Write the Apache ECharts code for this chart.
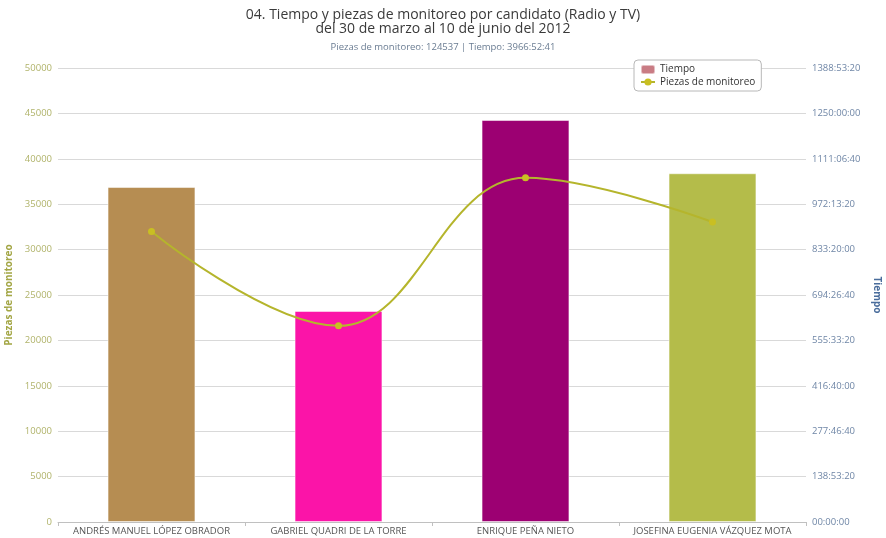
<!DOCTYPE html>
<html>
<head>
<meta charset="utf-8">
<script src="https://cdn.jsdelivr.net/npm/echarts@6/dist/echarts.min.js"></script>
<style>
  html, body { margin: 0; padding: 0; background: #fff; }
  #chart { width: 886px; height: 538px; }
</style>
</head>
<body>
<div id="chart"></div>
<script>
  // candidatos
  var candidatos = ['ANDRÉS MANUEL LÓPEZ OBRADOR', 'GABRIEL QUADRI DE LA TORRE', 'ENRIQUE PEÑA NIETO', 'JOSEFINA EUGENIA VÁZQUEZ MOTA'];
  // tiempo en segundos (eje derecho)
  var tiempoSeg = [3689000, 2324000, 4427000, 3840761];
  // piezas de monitoreo (eje izquierdo)
  var piezas = [32000, 21600, 37900, 33037];
  var coloresBarra = ['#b68d52', '#fb14a8', '#9c0072', '#b4bc4a'];

  var fmtTiempo = function (s) {
    var h = Math.floor(s / 3600);
    var m = Math.floor((s % 3600) / 60);
    var sec = Math.round(s % 60);
    var pad = function (n) { return n < 10 ? '0' + n : '' + n; };
    return pad(h) + ':' + pad(m) + ':' + pad(sec);
  };

  var barData = [];
  for (var i = 0; i < tiempoSeg.length; i++) {
    barData.push({
      value: tiempoSeg[i],
      itemStyle: { color: coloresBarra[i] }
    });
  }

  var myChart = echarts.init(document.getElementById('chart'));
  var option = {
    animation: false,
    title: {
      text: '04. Tiempo y piezas de monitoreo por candidato (Radio y TV)\ndel 30 de marzo al 10 de junio del 2012',
      subtext: 'Piezas de monitoreo: 124537 | Tiempo: 3966:52:41',
      left: 'center',
      top: 3,
      itemGap: 6,
      textStyle: { fontSize: 14, fontWeight: 'normal', color: '#3a3a3a', lineHeight: 14, fontFamily: 'Open Sans' },
      subtextStyle: { fontSize: 9.5, color: '#6a7c92', fontFamily: 'Open Sans' }
    },
    legend: {
      orient: 'vertical',
      left: 634,
      top: 60,
      itemWidth: 14,
      itemHeight: 9,
      itemGap: 2,
      padding: [4, 6, 4, 6],
      borderColor: '#b8b8b8',
      borderWidth: 1,
      borderRadius: 4,
      backgroundColor: '#fff',
      textStyle: { fontSize: 10, color: '#333', fontFamily: 'Open Sans' },
      data: ['Tiempo', 'Piezas de monitoreo']
    },
    grid: { left: 58, right: 80, top: 68, bottom: 16, containLabel: false, outerBoundsMode: 'none' },
    xAxis: {
      type: 'category',
      data: candidatos,
      axisLine: { lineStyle: { color: '#c0c0c0' } },
      axisTick: { show: true, length: 4, lineStyle: { color: '#c0c0c0' } },
      axisLabel: { interval: 0, fontSize: 9.5, color: '#555', margin: 4, fontFamily: 'Open Sans' }
    },
    yAxis: [
      {
        type: 'value',
        min: 0,
        max: 50000,
        interval: 5000,
        name: 'Piezas de monitoreo',
        nameLocation: 'middle',
        nameRotate: 90,
        nameGap: 41,
        nameTextStyle: { color: '#a3a645', fontSize: 10, fontWeight: 'bold', fontFamily: 'Open Sans' },
        axisLabel: {
          fontSize: 9.5,
          color: '#b0b36a',
          margin: 6,
          fontFamily: 'Open Sans',
          formatter: function (v) { return '' + v; }
        },
        axisLine: { show: false },
        axisTick: { show: false },
        splitLine: { lineStyle: { color: '#d9d9d9' } }
      },
      {
        type: 'value',
        min: 0,
        max: 5000000,
        interval: 500000,
        name: 'Tiempo',
        nameLocation: 'middle',
        nameRotate: -90,
        nameGap: 66,
        nameTextStyle: { color: '#4a6d9c', fontSize: 10, fontWeight: 'bold', fontFamily: 'Open Sans' },
        axisLabel: {
          fontSize: 9.5,
          color: '#6f86a6',
          margin: 6,
          fontFamily: 'Open Sans',
          formatter: function (v) { return fmtTiempo(v); }
        },
        axisLine: { show: false },
        axisTick: { show: false },
        splitLine: { show: false }
      }
    ],
    series: [
      {
        name: 'Tiempo',
        type: 'bar',
        yAxisIndex: 1,
        barWidth: '47%',
        itemStyle: { color: '#c97c84', borderColor: 'rgba(255,255,255,0.5)', borderWidth: 1 },
        data: barData
      },
      {
        name: 'Piezas de monitoreo',
        type: 'line',
        yAxisIndex: 0,
        smooth: 0.4,
        symbol: 'circle',
        symbolSize: 7,
        lineStyle: { color: '#b5b52c', width: 2 },
        itemStyle: { color: '#c9bf22' },
        data: piezas
      }
    ]
  };

  if (option && typeof option == 'object') {
    myChart.setOption(option, true);
  }
</script>
</body>
</html>
